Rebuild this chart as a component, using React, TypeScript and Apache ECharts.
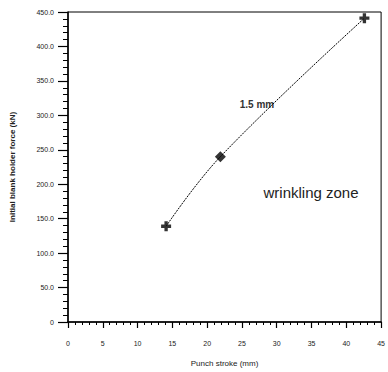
import React, { useEffect, useRef } from "react";
import * as echarts from "echarts";

const xValues = [14.1, 21.9, 42.6];
const yValues = [139, 240, 441];
const markerShapes = ["plus", "diamond", "plus"];
const xTicks = { min: 0, max: 45, interval: 5 };
const yTicks = { min: 0, max: 450, interval: 50 };
const xTitle = "Punch stroke (mm)";
const yTitle = "Initial blank holder force (kN)";
const curveLabel = "1.5 mm";
const zoneLabel = "wrinkling zone";

const plusPath = "path://M-1,-3L1,-3L1,-1L3,-1L3,1L1,1L1,3L-1,3L-1,1L-3,1L-3,-1L-1,-1Z";

export default function App() {
  const ref = useRef<HTMLDivElement>(null);
  useEffect(() => {
    document.body.style.margin = "0";
    const chart = echarts.init(ref.current!, undefined, { renderer: "svg" });
    const pts = xValues.map((x, i) => [x, yValues[i]]);
    chart.setOption({
      animation: false,
      backgroundColor: "#fff",
      grid: {
        left: 66, right: 3, top: 12, bottom: 47,
        show: true, borderColor: "#000", borderWidth: 1, backgroundColor: "transparent",
      },
      xAxis: {
        type: "value", min: xTicks.min, max: xTicks.max, interval: xTicks.interval,
        name: xTitle, nameLocation: "middle", nameGap: 37,
        nameTextStyle: { fontSize: 8, color: "#222", fontFamily: "Liberation Sans" },
        axisLine: { lineStyle: { color: "#000", width: 1.5 } },
        axisTick: { show: true, length: 6, lineStyle: { color: "#000", width: 1.2 } },
        minorTick: { show: true, splitNumber: 5, length: 3, lineStyle: { color: "#000", width: 1 } },
        splitLine: { show: false },
        axisLabel: { fontSize: 7, color: "#222", margin: 18, fontFamily: "Liberation Sans" },
      },
      yAxis: {
        type: "value", min: yTicks.min, max: yTicks.max, interval: yTicks.interval,
        name: yTitle, nameLocation: "middle", nameGap: 52,
        nameTextStyle: { fontSize: 8, color: "#222", fontWeight: "bold", fontFamily: "Liberation Sans" },
        axisLine: { show: true, lineStyle: { color: "#000", width: 1.5 } },
        axisTick: { show: true, length: 10, lineStyle: { color: "#000", width: 1.2 } },
        minorTick: { show: true, splitNumber: 5, length: 5, lineStyle: { color: "#000", width: 1 } },
        splitLine: { show: false },
        axisLabel: {
          fontSize: 7, color: "#222", margin: 14, fontFamily: "Liberation Sans",
          formatter: (v: number) => (v === 0 ? "0" : v.toFixed(1)),
        },
      },
      series: [
        {
          type: "line", data: pts, smooth: 0.4, symbol: "none",
          lineStyle: { color: "#000", width: 1, type: [2, 1] },
          z: 2,
        },
        {
          type: "scatter",
          data: pts.map((p, i) => ({
            value: p,
            symbol: markerShapes[i] === "plus" ? plusPath : "diamond",
            symbolSize: markerShapes[i] === "plus" ? 10 : 11,
          })),
          itemStyle: { color: "#000" },
          z: 3,
        },
      ],
      graphic: [
        {
          type: "text", x: 257, y: 104,
          style: { text: curveLabel, fontSize: 10, fontWeight: "bold", fill: "#333", align: "center", verticalAlign: "middle", fontFamily: "Liberation Sans" },
        },
        {
          type: "text", x: 311, y: 192,
          style: { text: zoneLabel, fontSize: 15, fill: "#222", align: "center", verticalAlign: "middle", fontFamily: "Liberation Sans" },
        },
      ],
    });
    return () => chart.dispose();
  }, []);
  return <div ref={ref} style={{ width: 388, height: 372 }} />;
}
